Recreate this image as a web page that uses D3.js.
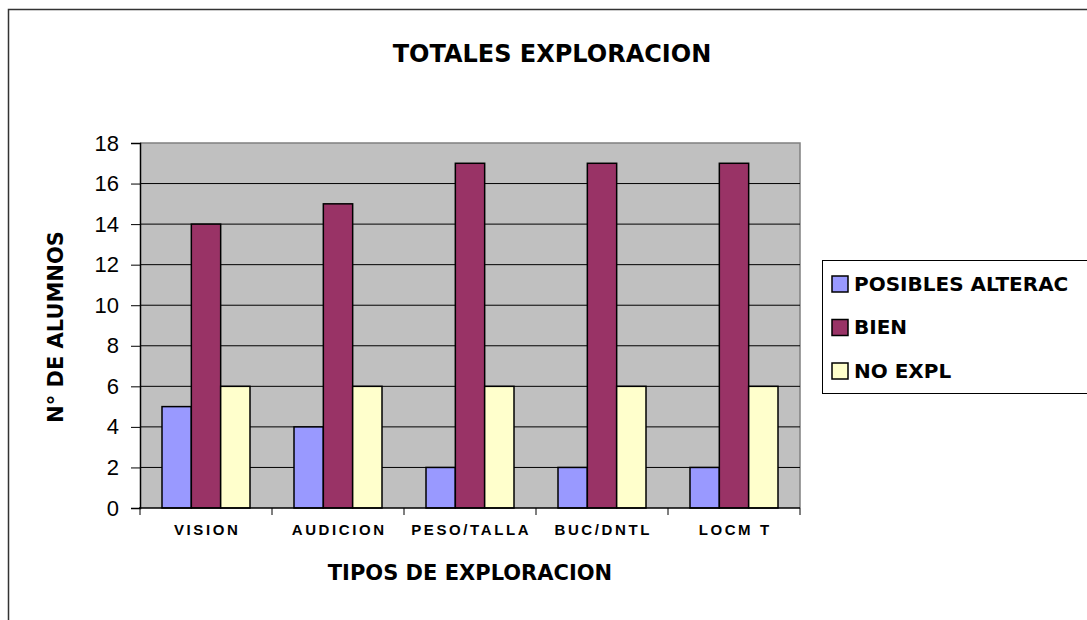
<!DOCTYPE html>
<html>
<head>
<meta charset="utf-8">
<script src="https://cdn.jsdelivr.net/npm/d3@7"></script>
<style>
  body { margin: 0; background: #fff; }
  svg { display: block; }
  .comic { font-family: "Comic Sans MS", "DejaVu Sans", sans-serif; font-weight: bold; }
  .arial { font-family: Arial, "Liberation Sans", sans-serif; }
</style>
</head>
<body>
<script>
const categories = ["VISION", "AUDICION", "PESO/TALLA", "BUC/DNTL", "LOCM T"];
const seriesNames = ["POSIBLES ALTERAC", "BIEN", "NO EXPL"];
const posibles = [5, 4, 2, 2, 2];
const bien = [14, 15, 17, 17, 17];
const noExpl = [6, 6, 6, 6, 6];
const yTicks = [0, 2, 4, 6, 8, 10, 12, 14, 16, 18];
const colors = ["#9999FF", "#993366", "#FFFFCC"];

const seriesValues = [posibles, bien, noExpl];

const W = 1087, H = 620;
const plot = { left: 140, right: 800, top: 143, bottom: 508 };

const svg = d3.select("body").append("svg")
    .attr("width", W)
    .attr("height", H);

// outer chart border (runs off the right and bottom)
svg.append("rect")
    .attr("x", 8.5).attr("y", 9.5)
    .attr("width", 1200).attr("height", 800)
    .attr("fill", "#fff")
    .attr("stroke", "#333")
    .attr("stroke-width", 1.5);

const x0 = d3.scaleBand().domain(categories).range([plot.left, plot.right]);
const x1 = d3.scaleBand().domain(seriesNames)
    .range([x0.bandwidth() / 6, x0.bandwidth() * 5 / 6]);
const y = d3.scaleLinear().domain([0, 18]).range([plot.bottom, plot.top]);

// plot area
svg.append("rect")
    .attr("x", plot.left).attr("y", plot.top)
    .attr("width", plot.right - plot.left)
    .attr("height", plot.bottom - plot.top)
    .attr("fill", "#C0C0C0");

svg.append("path")
    .attr("d", `M${plot.left},${plot.top}H${plot.right}V${plot.bottom}`)
    .attr("fill", "none")
    .attr("stroke", "#808080")
    .attr("stroke-width", 1.5);

// gridlines
svg.append("g")
    .selectAll("line")
    .data(yTicks.filter(d => d > 0 && d < 18))
    .join("line")
    .attr("x1", plot.left).attr("x2", plot.right)
    .attr("y1", d => y(d)).attr("y2", d => y(d))
    .attr("stroke", "#000")
    .attr("stroke-width", 1);

// bars
const rows = categories.map((c, i) => ({ cat: c, vals: seriesNames.map((s, j) => ({ s, j, v: seriesValues[j][i] })) }));

svg.append("g")
    .selectAll("g")
    .data(rows)
    .join("g")
    .attr("transform", d => `translate(${x0(d.cat)},0)`)
    .selectAll("rect")
    .data(d => d.vals)
    .join("rect")
    .attr("x", d => x1(d.s))
    .attr("width", x1.bandwidth())
    .attr("y", d => y(d.v))
    .attr("height", d => y(0) - y(d.v))
    .attr("fill", d => colors[d.j])
    .attr("stroke", "#000")
    .attr("stroke-width", 1.5);

// y axis
const yAxis = d3.axisLeft(y).tickValues(yTicks).tickSize(9).tickPadding(12);
const gy = svg.append("g")
    .attr("transform", `translate(${plot.left},0)`)
    .call(yAxis);
gy.select(".domain").attr("stroke", "#000").attr("stroke-width", 1.5);
gy.selectAll(".tick line").attr("stroke", "#000");
gy.selectAll(".tick text")
    .attr("class", "arial")
    .style("font-size", "22px")
    .attr("fill", "#000");

// x axis
svg.append("line")
    .attr("x1", plot.left - 1).attr("x2", plot.right)
    .attr("y1", plot.bottom).attr("y2", plot.bottom)
    .attr("stroke", "#000").attr("stroke-width", 1.5);

const boundaries = categories.map(c => x0(c)).concat([plot.right]);
svg.append("g")
    .selectAll("line")
    .data(boundaries)
    .join("line")
    .attr("x1", d => d).attr("x2", d => d)
    .attr("y1", plot.bottom).attr("y2", plot.bottom + 7)
    .attr("stroke", "#000");

svg.append("g")
    .selectAll("text")
    .data(categories)
    .join("text")
    .attr("class", "arial")
    .attr("x", d => x0(d) + x0.bandwidth() / 2 + 1.2)
    .attr("y", 535)
    .attr("text-anchor", "middle")
    .style("font-size", "15px")
    .style("font-weight", "bold")
    .style("letter-spacing", "2.6px")
    .text(d => d);

// titles
svg.append("text")
    .attr("class", "comic")
    .attr("x", 552).attr("y", 62)
    .attr("text-anchor", "middle")
    .style("font-size", "24px")
    .text("TOTALES EXPLORACION");

svg.append("text")
    .attr("class", "comic")
    .attr("x", 470).attr("y", 580)
    .attr("text-anchor", "middle")
    .style("font-size", "21px")
    .text("TIPOS DE EXPLORACION");

svg.append("text")
    .attr("class", "comic")
    .attr("transform", "translate(63,327) rotate(-90)")
    .attr("text-anchor", "middle")
    .style("font-size", "21px")
    .text("N° DE ALUMNOS");

// legend
const legend = svg.append("g");
legend.append("rect")
    .attr("x", 822.5).attr("y", 260.5)
    .attr("width", 400).attr("height", 133)
    .attr("fill", "#fff")
    .attr("stroke", "#000")
    .attr("stroke-width", 1);

const item = legend.selectAll("g.item")
    .data(seriesNames)
    .join("g")
    .attr("class", "item")
    .attr("transform", (d, i) => `translate(832,${276 + i * 43.5})`);

item.append("rect")
    .attr("width", 16).attr("height", 16)
    .attr("fill", (d, i) => colors[i])
    .attr("stroke", "#000")
    .attr("stroke-width", 1.5);

item.append("text")
    .attr("class", "comic")
    .attr("x", 22).attr("y", 14.5)
    .style("font-size", "20px")
    .text(d => d);
</script>
</body>
</html>
